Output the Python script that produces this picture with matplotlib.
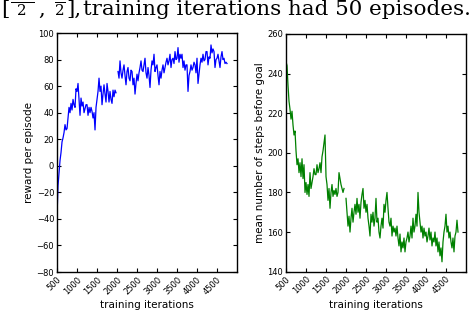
import numpy as np
import matplotlib
matplotlib.use("Agg")
import matplotlib.pyplot as plt

plt.rcParams["mathtext.fontset"] = "dejavuserif"

# training iterations, one reading every 25 iterations
iterations = np.arange(500, 4825, 25)

# reward per episode (left panel)
reward = [
    -38, -15, -5, 4, 10, 18, 21, 25, 31, 27,
    28, 36, 44, 40, 47, 42, 50, 46, 44, 58,
    56, 62, 50, 38, 51, 45, 48, 40, 43, 46,
    46, 38, 44, 40, 44, 41, 36, 40, 27, 44,
    50, 56, 66, 56, 60, 46, 54, 61, 54, 48,
    62, 56, 48, 56, 50, 47, 57, 52, 57, 55,
    np.nan, 71, 66, 79, 70, 66, 72, 76, 68, 61,
    71, 74, 66, 64, 72, 71, 61, 66, 54, 62,
    69, 64, 70, 74, 79, 72, 71, 76, 81, 70,
    66, 74, 68, 59, 72, 79, 76, 84, 71, 74,
    76, 68, 61, 71, 66, 72, 76, 70, 74, 78,
    81, 76, 79, 84, 74, 80, 81, 77, 86, 80,
    81, 89, 78, 84, 81, 84, 74, 79, 72, 76,
    76, 56, 68, 71, 76, 72, 74, 78, 76, 70,
    81, 62, 69, 76, 81, 78, 84, 79, 80, 86,
    86, 76, 82, 81, 91, 85, 88, 86, 74, 80,
    81, 84, 79, 74, 82, 86, 80, 81, 77, 78,
    77, np.nan, np.nan,
]

# mean number of steps before goal (right panel)
steps = [
    246, 244, 234, 226, 222, 217, 221, 214, 209, 211,
    201, 194, 197, 190, 195, 188, 197, 187, 194, 180,
    185, 179, 184, 178, 190, 182, 185, 188, 192, 189,
    189, 194, 190, 192, 195, 190, 198, 201, 205, 209,
    188, 184, 176, 182, 172, 180, 184, 178, 181, 179,
    182, 178, 180, 190, 187, 184, 182, 180, 182, np.nan,
    177, 170, 163, 168, 160, 167, 172, 165, 170, 174,
    169, 177, 170, 174, 167, 175, 179, 182, 172, 176,
    170, 174, 167, 163, 158, 169, 165, 170, 163, 167,
    177, 165, 167, 160, 157, 163, 167, 162, 174, 170,
    176, 180, 172, 165, 163, 167, 158, 163, 160, 162,
    158, 163, 157, 153, 159, 150, 155, 152, 157, 150,
    155, 157, 160, 155, 158, 163, 157, 167, 160, 163,
    169, 163, 180, 170, 165, 160, 163, 157, 162, 158,
    160, 155, 158, 162, 156, 160, 153, 157, 155, 160,
    153, 157, 150, 155, 148, 152, 145, 155, 160, 163,
    169, 160, 163, 157, 160, 155, 152, 157, 150, 158,
    160, 166, 160,
]

xticks = [500, 1000, 1500, 2000, 2500, 3000, 3500, 4000, 4500]

W, H = 474, 312
fig = plt.figure(figsize=(W / 100, H / 100), dpi=100)

# clipped caption line from the page above the figure
cap = dict(fontsize=15.4, family="DejaVu Serif", va="baseline")
base = 1 - 15 / H
raised = 1 - 8 / H
fig.text(1 / W, base, "[", ha="left", **cap)
fig.text(22 / W, raised, r"$\frac{-\pi}{2}$", ha="center", **cap)
fig.text(38 / W, base, ",", ha="left", **cap)
fig.text(60 / W, raised, r"$\frac{\pi}{2}$", ha="center", **cap)
fig.text(66 / W, base, "],", ha="left", **cap)
fig.text(83 / W, base, "training iterations had 50 episodes.", ha="left", **cap)

ax1 = fig.add_axes([0.1203, 0.1282, 0.3797, 0.766])
ax2 = fig.add_axes([0.6034, 0.1292, 0.3797, 0.762])

ax1.plot(iterations, reward, color="#0000ff", linewidth=0.9)
ax1.set_ylim(-80, 100)
ax1.set_yticks(np.arange(-80, 101, 20))
ax1.set_ylabel("reward per episode", fontsize=7.5, labelpad=2)

ax2.plot(iterations, steps, color="#008000", linewidth=0.9)
ax2.set_ylim(140, 260)
ax2.set_yticks(np.arange(140, 261, 20))
ax2.set_ylabel("mean number of steps before goal", fontsize=7.5, labelpad=2)

for ax in (ax1, ax2):
    ax.set_xlim(500, 5000)
    ax.set_xticks(xticks)
    ax.set_xticklabels([str(t) for t in xticks], rotation=45, ha="right", rotation_mode="anchor")
    ax.set_xlabel("training iterations", fontsize=7.5, labelpad=3)
    ax.tick_params(direction="in", top=True, right=True, length=3, width=0.8, labelsize=6, pad=2)
    for s in ax.spines.values():
        s.set_linewidth(1)

fig.savefig("out.png", dpi=100)
